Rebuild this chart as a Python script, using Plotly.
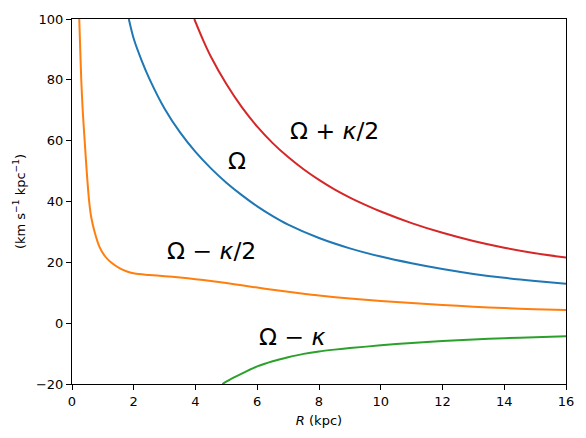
import plotly.graph_objects as go

# Omega
R_omega = [1.84, 2.0, 2.25, 2.5, 3.0, 3.5, 4.0, 4.5, 5.0, 5.5, 6.0, 6.5, 7.0, 8.0, 9.0, 10.0, 11.0, 12.0, 13.0, 14.0, 15.0, 16.0]
V_omega = [100, 93.5, 86.5, 80.5, 70.5, 62.7, 56.3, 50.9, 46.2, 42.1, 38.4, 35.2, 32.4, 28.0, 24.6, 21.9, 19.7, 17.8, 16.2, 14.9, 13.85, 12.95]

# Omega + kappa/2
R_plus = [3.96, 4.25, 4.5, 5.0, 5.5, 6.0, 6.5, 7.0, 7.5, 8.0, 8.5, 9.0, 9.5, 10.0, 11.0, 12.0, 13.0, 14.0, 15.0, 16.0]
V_plus = [100, 93.0, 87.6, 78.6, 71.0, 64.6, 59.2, 54.6, 50.6, 47.1, 44.0, 41.3, 38.9, 36.7, 32.9, 29.7, 27.0, 24.8, 23.0, 21.6]

# Omega - kappa/2
R_minus = [0.235, 0.267, 0.30, 0.347, 0.41, 0.476, 0.556, 0.62, 0.733, 0.894, 1.07, 1.26, 1.55, 1.78, 2.03, 2.5, 3.0, 3.5, 4.0, 4.5, 5.0, 5.5, 6.0, 6.5, 7.0, 7.5, 8.0, 9.0, 10.0, 11.0, 12.0, 13.0, 14.0, 15.0, 16.0]
V_minus = [100, 90, 80, 70, 60, 50, 40, 35, 30, 25, 22, 20, 18, 17, 16.3, 15.85, 15.45, 15.0, 14.45, 13.85, 13.2, 12.45, 11.7, 11.0, 10.3, 9.7, 9.1, 8.1, 7.3, 6.6, 6.0, 5.4, 4.95, 4.6, 4.3]

# Omega - kappa
R_mk = [4.87, 5.2, 5.6, 6.0, 6.5, 7.0, 7.5, 8.0, 8.5, 9.0, 10.0, 11.0, 12.0, 13.0, 14.0, 15.0, 16.0]
V_mk = [-20, -18.1, -16.1, -14.2, -12.5, -11.2, -10.1, -9.3, -8.7, -8.2, -7.3, -6.5, -5.85, -5.35, -4.95, -4.6, -4.3]

labels = ["Ω + <i>κ</i>/2", "Ω", "Ω − <i>κ</i>/2", "Ω − <i>κ</i>"]
label_pos = [(7.0, 63.3), (5.0, 53.3), (3.0, 23.7), (6.0, -4.4)]

x_ticks = [0, 2, 4, 6, 8, 10, 12, 14, 16]
y_ticks = [-20, 0, 20, 40, 60, 80, 100]

fig = go.Figure()
series = [
    (R_omega, V_omega, "#1f77b4"),
    (R_minus, V_minus, "#ff7f0e"),
    (R_mk, V_mk, "#2ca02c"),
    (R_plus, V_plus, "#d62728"),
]
for xs, ys, c in series:
    fig.add_trace(go.Scatter(x=xs, y=ys, mode="lines", line=dict(color=c, width=2, shape="spline", smoothing=0.8), showlegend=False))

for txt, (lx, ly) in zip(labels, label_pos):
    fig.add_annotation(x=lx, y=ly, text=txt, showarrow=False, xanchor="left", yanchor="middle",
                       font=dict(size=23.5, color="black", family="DejaVu Sans"))

axis_common = dict(showgrid=False, zeroline=False, showline=True, linecolor="black", linewidth=1,
                   mirror=True, ticks="outside", ticklen=5, tickwidth=1, tickcolor="black",
                   tickfont=dict(size=13, color="black", family="DejaVu Sans"))
fig.update_xaxes(range=[0, 16], tickvals=x_ticks, title=dict(text="<i>R</i> (kpc)", font=dict(size=13, color="black"), standoff=8), **axis_common)
fig.update_yaxes(range=[-20, 100], tickvals=y_ticks, title=dict(text="(km s<sup>−1</sup> kpc<sup>−1</sup>)", font=dict(size=13, color="black"), standoff=7), **axis_common)

fig.update_layout(width=586, height=438, margin=dict(l=72, r=17, t=14, b=54),
                  plot_bgcolor="white", paper_bgcolor="white",
                  font=dict(family="DejaVu Sans", color="black"))
fig.write_html("out.html")
